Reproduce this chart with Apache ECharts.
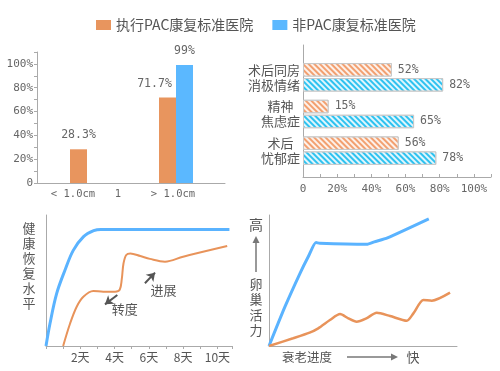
<!DOCTYPE html>
<html>
<head>
<meta charset="utf-8">
<script src="https://cdn.jsdelivr.net/npm/echarts@6/dist/echarts.min.js"></script>
<style>html,body{margin:0;padding:0;background:#fff}#c{width:500px;height:371px}</style>
</head>
<body>
<div id="c"></div>
<script>
// ---- data ----
const seriesNames = ['执行PAC康复标准医院', '非PAC康复标准医院'];
const sizeCategories = ['< 1.0cm', '1', '> 1.0cm'];
const pacSize = [28.3, null, 71.7];
const nonPacSize = [null, null, 99];
const percentTicks = [0, 20, 40, 60, 80, 100];

const emotionCategories = ['术后同房\n消极情绪', '精神\n焦虑症', '术后\n忧郁症'];
const pacEmotion = [52, 15, 56];
const nonPacEmotion = [82, 65, 78];

const recoveryLabelDays = [2, 4, 6, 8, 10];
const recoveryBlue = [[0,0],[0.23,17],[0.62,40],[1.11,58],[1.59,73],[2.19,83.5],[2.78,88],[3.2,89],[3.8,89],[10.7,89]];
const recoveryOrange = [[1.0,0],[1.4,17],[1.79,30],[2.18,37.6],[2.76,42],[3.34,41.5],[4.03,41.5],[4.3,43],[4.42,51],[4.52,63],[4.68,69.5],[4.92,70.7],[5.5,68.7],[6.06,66.5],[6.94,64.4],[8.0,68.2],[10.57,76.3]];
const turnArrow = [[4.16,38.9],[3.44,31.8]];
const progressArrow = [[5.77,47.9],[6.36,56]];
const turnLabel = ['转度', 4.59, 28.0];
const progressLabel = ['进展', 6.85, 42.7];

const ovaryBlue = [[0,0],[8.5,30],[16.5,55.5],[21,68.5],[25,79],[27,78.4],[52,77.6],[56,79.5],[63,82.5],[85,97]];
const ovaryOrange = [[0,0],[12.8,5.9],[21.6,10.2],[26.2,13.5],[32.4,19.8],[37.8,24.4],[42.2,21.1],[46.6,18.5],[51.8,21.1],[57.3,25.4],[64.4,22.9],[73.3,19.3],[76.8,24.9],[82.1,35.1],[86.6,34.6],[96.3,40.7]];

// ---- styles ----
const ORANGE = '#E8955E', BLUE = '#5BB8FF';
const LINE_BLUE = '#5AB3FF', LINE_ORANGE = '#E8935A';
const AXIS = '#aaaaaa', TXT = '#555555', NUM = '#666666';
const CJK = 'Noto Sans CJK SC', MONO = 'DejaVu Sans Mono';

const chart = echarts.init(document.getElementById('c'), null, {renderer: 'canvas'});

const hiddenVal = (gi, extra) => Object.assign({type: 'value', gridIndex: gi, show: false}, extra || {});
const lineOnly = (gi, extra) => Object.assign({
  type: 'value', gridIndex: gi, min: 0, max: 1,
  axisLine: {show: true, lineStyle: {color: AXIS}},
  axisTick: {show: false}, axisLabel: {show: false}, splitLine: {show: false}
}, extra || {});

const sizeRich = {
  c0: {padding: [0, 28, 0, 0], fontFamily: MONO, fontSize: 10.5, color: NUM},
  c1: {padding: [0, 27, 0, 0], fontFamily: MONO, fontSize: 10.5, color: NUM},
  c2: {padding: [0, 6, 0, 0], fontFamily: MONO, fontSize: 10.5, color: NUM}
};
const emoRich = {
  w3: {width: 39, align: 'center', fontFamily: CJK, fontSize: 13, lineHeight: 15, color: TXT},
  w4: {width: 52, align: 'center', fontFamily: CJK, fontSize: 13, lineHeight: 15, color: TXT}
};

// the label of the last orange bar sits left of its bar, clear of the blue one
const pacSizeItems = pacSize.map((v, i) => (i === pacSize.length - 1 && v != null)
  ? {value: v, label: {offset: [-13, 0]}} : v);

const option = {
  animation: false,
  textStyle: {fontFamily: CJK},
  legend: {
    data: seriesNames, left: 96, top: 18, padding: 0, itemWidth: 15, itemHeight: 10, itemGap: 19,
    icon: 'rect', textStyle: {fontSize: 14, color: TXT, fontFamily: CJK}
  },
  grid: [
    {left: 37, top: 52, width: 188, height: 131},
    {left: 64.75, top: 52, width: 133.5, height: 131},
    {left: 303, top: 45, width: 188, height: 132},
    {left: 303, top: 59, width: 188, height: 110},
    {left: 46, top: 215, width: 186, height: 131},
    {left: 269, top: 215, width: 188, height: 131}
  ],
  xAxis: [
    lineOnly(0),
    {type: 'category', gridIndex: 1, data: sizeCategories,
      axisLine: {show: false}, axisTick: {show: false},
      axisLabel: {interval: 0, margin: 6, formatter: (v, i) => `{c${i}|${v}}`, rich: sizeRich}},
    {type: 'value', gridIndex: 2, min: 0, max: 110, interval: 20,
      axisLine: {show: true, lineStyle: {color: AXIS}},
      axisTick: {show: true, inside: true, length: 3, lineStyle: {color: AXIS}},
      minorTick: {show: true, splitNumber: 2, length: 3, lineStyle: {color: AXIS}},
      splitLine: {show: false},
      axisLabel: {margin: 7, fontFamily: MONO, fontSize: 11, color: NUM,
        formatter: v => percentTicks.includes(v) ? (v === 0 ? '0' : v + '%') : ''}},
    hiddenVal(3, {min: 0, max: 110}),
    {type: 'value', gridIndex: 4, min: 0, max: 10.85, interval: 1,
      axisLine: {show: true, lineStyle: {color: AXIS}},
      axisTick: {show: true, length: 3, lineStyle: {color: AXIS}},
      splitLine: {show: false},
      axisLabel: {margin: 5, fontSize: 12, color: TXT, fontFamily: CJK,
        formatter: v => recoveryLabelDays.includes(v) ? v + '天' : ''}},
    {type: 'value', gridIndex: 5, min: 0, max: 100,
      axisLine: {show: true, lineStyle: {color: AXIS}},
      axisTick: {show: false}, axisLabel: {show: false}, splitLine: {show: false}}
  ],
  yAxis: [
    {type: 'value', gridIndex: 0, min: 0, max: 110, interval: 20,
      axisLine: {show: true, lineStyle: {color: AXIS}},
      axisTick: {show: true, length: 3, lineStyle: {color: AXIS}},
      minorTick: {show: true, splitNumber: 2, length: 3, lineStyle: {color: AXIS}},
      splitLine: {show: false},
      axisLabel: {margin: 4, fontFamily: MONO, fontSize: 11, color: NUM,
        formatter: v => percentTicks.includes(v) ? (v === 0 ? '0' : v + '%') : ''}},
    hiddenVal(1, {min: 0, max: 110}),
    lineOnly(2),
    {type: 'category', gridIndex: 3, data: emotionCategories, inverse: true,
      axisLine: {show: false}, axisTick: {show: false},
      axisLabel: {interval: 0, margin: 3, formatter: v => {
        const lines = v.split('\n');
        const n = Math.max(...lines.map(l => l.length));
        return lines.map(l => `{w${n}|${l}}`).join('\n');
      }, rich: emoRich}},
    {type: 'value', gridIndex: 4, min: 0, max: 100,
      axisLine: {show: true, lineStyle: {color: AXIS}},
      axisTick: {show: false}, axisLabel: {show: false}, splitLine: {show: false}},
    {type: 'value', gridIndex: 5, min: 0, max: 100,
      axisLine: {show: true, lineStyle: {color: AXIS}},
      axisTick: {show: false}, axisLabel: {show: false}, splitLine: {show: false}}
  ],
  series: [
    {name: seriesNames[0], type: 'bar', xAxisIndex: 1, yAxisIndex: 1, data: pacSizeItems,
      barWidth: 17, barGap: '0%', itemStyle: {color: ORANGE},
      label: {show: true, position: 'top', distance: 8, fontFamily: MONO, fontSize: 11.5, color: NUM,
        formatter: p => p.value + '%'}},
    {name: seriesNames[1], type: 'bar', xAxisIndex: 1, yAxisIndex: 1, data: nonPacSize,
      barWidth: 17, barGap: '0%', itemStyle: {color: BLUE},
      label: {show: true, position: 'top', distance: 8, fontFamily: MONO, fontSize: 11.5, color: NUM,
        formatter: p => p.value + '%'}},
    {name: 'pacEmotion', type: 'bar', xAxisIndex: 3, yAxisIndex: 3, data: pacEmotion,
      barWidth: 13.5, barGap: '11%',
      itemStyle: {color: '#F2A070', borderColor: '#c8c8c8', borderWidth: 1,
        decal: {symbol: 'rect', color: 'rgba(255,255,255,0.85)', dashArrayX: [1, 0], dashArrayY: [1.5, 1.5], rotation: Math.PI / 4, symbolSize: 1}},
      label: {show: true, position: 'right', distance: 6, fontFamily: MONO, fontSize: 11.5, color: NUM,
        formatter: p => p.value + '%'}},
    {name: 'nonPacEmotion', type: 'bar', xAxisIndex: 3, yAxisIndex: 3, data: nonPacEmotion,
      barWidth: 13.5, barGap: '11%',
      itemStyle: {color: '#2EC2F0', borderColor: '#c8c8c8', borderWidth: 1,
        decal: {symbol: 'rect', color: 'rgba(255,255,255,0.85)', dashArrayX: [1, 0], dashArrayY: [1.5, 1.5], rotation: Math.PI / 4, symbolSize: 1}},
      label: {show: true, position: 'right', distance: 6, fontFamily: MONO, fontSize: 11.5, color: NUM,
        formatter: p => p.value + '%'}},
    {name: 'recoveryBlue', type: 'line', xAxisIndex: 4, yAxisIndex: 4, data: recoveryBlue,
      smooth: 0.35, symbol: 'none', lineStyle: {color: LINE_BLUE, width: 3}},
    {name: 'recoveryOrange', type: 'line', xAxisIndex: 4, yAxisIndex: 4, data: recoveryOrange,
      smooth: 0.35, symbol: 'none', lineStyle: {color: LINE_ORANGE, width: 2},
      markLine: {silent: true, symbol: ['none', 'arrow'], symbolSize: 8, animation: false,
        lineStyle: {color: '#555', width: 2, type: 'solid'}, label: {show: false},
        data: [
          [{coord: turnArrow[0]}, {coord: turnArrow[1]}],
          [{coord: progressArrow[0]}, {coord: progressArrow[1]}]
        ]},
      markPoint: {silent: true, symbol: 'circle', symbolSize: 1, itemStyle: {color: 'rgba(0,0,0,0)'},
        label: {show: true, position: 'inside', formatter: '{b}', fontSize: 13, color: TXT, fontFamily: CJK},
        data: [
          {name: turnLabel[0], coord: [turnLabel[1], turnLabel[2]]},
          {name: progressLabel[0], coord: [progressLabel[1], progressLabel[2]]}
        ]}},
    {name: 'ovaryBlue', type: 'line', xAxisIndex: 5, yAxisIndex: 5, data: ovaryBlue,
      smooth: 0.2, symbol: 'none', lineStyle: {color: LINE_BLUE, width: 3}},
    {name: 'ovaryOrange', type: 'line', xAxisIndex: 5, yAxisIndex: 5, data: ovaryOrange,
      smooth: 0.25, symbol: 'none', lineStyle: {color: LINE_ORANGE, width: 2.5}}
  ],
  graphic: [
    {type: 'text', style: {text: '健\n康\n恢\n复\n水\n平', x: 29, y: 266, align: 'center', verticalAlign: 'middle', fontSize: 13, lineHeight: 15, fill: TXT, fontFamily: CJK}},
    {type: 'text', style: {text: '高', x: 256, y: 225, align: 'center', verticalAlign: 'middle', fontSize: 14, fill: TXT, fontFamily: CJK}},
    {type: 'line', shape: {x1: 256, y1: 272, x2: 256, y2: 241}, style: {stroke: '#777', lineWidth: 1.5}},
    {type: 'polygon', shape: {points: [[256, 236], [252.5, 243], [259.5, 243]]}, style: {fill: '#777'}},
    {type: 'text', style: {text: '卵\n巢\n活\n力', x: 256, y: 307, align: 'center', verticalAlign: 'middle', fontSize: 13, lineHeight: 15.5, fill: TXT, fontFamily: CJK}},
    {type: 'text', style: {text: '衰老进度', x: 307, y: 357, align: 'center', verticalAlign: 'middle', fontSize: 12.5, fill: TXT, fontFamily: CJK}},
    {type: 'line', shape: {x1: 347, y1: 357, x2: 393, y2: 357}, style: {stroke: '#777', lineWidth: 1.5}},
    {type: 'polygon', shape: {points: [[398, 357], [391, 353.5], [391, 360.5]]}, style: {fill: '#777'}},
    {type: 'text', style: {text: '快', x: 413, y: 357, align: 'center', verticalAlign: 'middle', fontSize: 13, fill: TXT, fontFamily: CJK}}
  ]
};
chart.setOption(option);
</script>
</body>
</html>
